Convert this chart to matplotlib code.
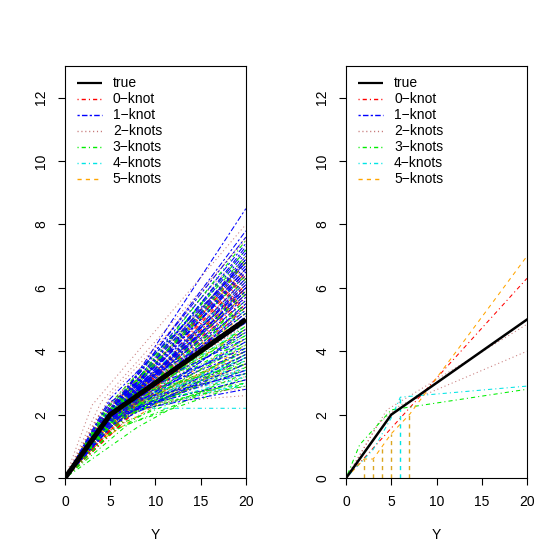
import numpy as np
import matplotlib
matplotlib.use('Agg')
import matplotlib.pyplot as plt

plt.rcParams['font.family'] = ['Liberation Sans', 'DejaVu Sans']
plt.rcParams['font.size'] = 10
plt.rcParams['lines.scale_dashes'] = False

# ------------------------------------------------------------
# data
# ------------------------------------------------------------
true_x = [0, 5, 20]
true_y = [0, 2, 5]

# left panel: each fitted line = (0,0) -> (knot_x, knot_y) -> (20, end)
blue_knot_x = [5, 5, 4.5, 5, 5.5, 5, 4, 5, 6, 5, 4.5, 5, 5.5, 5, 4, 5, 6, 5, 4.5, 5,
               5.5, 5, 4, 5, 6, 5, 4.5, 5, 5, 5.5, 5, 4, 5, 6, 5, 5, 4.5, 5, 5.5, 5,
               6, 4, 5, 7, 5.5, 3.5, 5, 6]
blue_knot_y = [2.0, 2.2, 2.0, 2.1, 2.3, 1.9, 1.8, 2.0, 2.4, 2.1, 1.9, 2.2, 2.0, 1.8, 1.7, 2.3, 2.2, 1.9, 2.1, 2.0,
               1.8, 2.2, 1.6, 2.0, 2.3, 1.9, 1.7, 2.1, 1.8, 2.0, 2.2, 1.5, 1.9, 2.1, 2.0, 1.7, 1.9, 2.4, 2.1, 2.0,
               2.5, 1.7, 1.6, 2.6, 2.3, 1.5, 2.5, 1.9]
blue_end = [8.5, 7.6, 7.4, 7.2, 7.1, 7.0, 6.9, 6.8, 6.7, 6.6, 6.5, 6.4, 6.3, 6.2, 6.1, 6.0, 5.9, 5.8, 5.7, 5.6,
            5.5, 5.4, 5.3, 5.2, 7.3, 6.9, 6.6, 4.9, 4.6, 4.3, 4.0, 3.8, 3.4, 3.1, 2.8, 6.0, 7.8, 5.0, 6.5, 5.9,
            4.4, 3.6, 4.7, 4.1, 3.3, 5.1, 6.8, 3.9]

brown_knot_x = [3, 4, 5, 5, 4.5, 5, 6, 5, 4, 5, 5.5, 5, 4.5, 5, 6, 5, 4, 5, 5.5, 5,
                4.5, 5, 6, 5, 5, 4, 5, 5.5, 5, 4.5, 5, 6, 3.5, 5, 4, 7, 3, 6, 8, 5]
brown_knot_y = [2.3, 2.4, 2.6, 2.2, 2.0, 1.9, 2.3, 2.1, 1.8, 2.0, 2.2, 1.8, 1.9, 2.1, 2.2, 1.7, 1.6, 2.0, 1.9, 2.2,
                1.8, 2.0, 2.3, 1.6, 2.4, 2.1, 1.9, 2.0, 1.7, 2.2, 1.8, 2.1, 1.9, 2.3, 1.7, 2.7, 1.5, 2.6, 2.4, 1.5]
brown_end = [8.0, 7.5, 7.2, 6.9, 6.6, 6.3, 6.0, 5.8, 5.6, 5.4, 5.2, 4.9, 4.7, 4.5, 4.3, 4.1, 3.9, 3.7, 3.5, 3.3,
             3.1, 2.9, 2.6, 4.4, 5.0, 6.2, 7.0, 3.9, 3.6, 4.8, 5.3, 4.0, 6.8, 7.6, 4.2, 3.4, 4.6, 2.8, 3.2, 3.8]

green_knot_x = [8, 7, 5, 5, 4.5, 5, 5.5, 5, 4, 5, 6, 5, 4.5, 5, 5, 6, 5, 4, 5, 5.5,
                5, 4.5, 5, 6, 5, 3, 5, 7, 5, 4, 6, 5, 5, 4.5, 5, 3.5, 6, 7, 4]
green_knot_y = [1.6, 1.7, 1.5, 2.0, 1.9, 2.1, 2.2, 1.8, 1.7, 2.0, 2.3, 1.9, 2.0, 2.2, 1.7, 2.1, 1.8, 1.6, 2.0, 1.9,
                2.1, 2.2, 1.8, 2.4, 1.6, 1.3, 2.3, 2.0, 1.9, 1.8, 1.7, 2.0, 1.4, 2.1, 1.7, 1.6, 2.5, 2.3, 1.4]
green_end = [3.5, 3.2, 3.0, 7.5, 7.2, 6.9, 6.6, 6.3, 6.0, 5.8, 5.5, 5.2, 4.9, 4.6, 4.3, 4.0, 3.8, 3.6, 3.4, 3.1,
             2.9, 7.0, 5.6, 4.7, 4.1, 5.0, 6.4, 3.7, 5.4, 4.4, 3.3, 6.8, 3.9, 4.5, 5.9, 4.2, 3.6, 3.0, 4.8]

cyan_knot_x = [7, 5, 6, 5, 4.5, 5, 6, 5, 5.5, 4, 5, 6, 5, 5, 4.5, 6.5, 5, 4]
cyan_knot_y = [2.2, 1.9, 2.1, 2.0, 1.8, 2.2, 2.3, 1.9, 2.0, 1.7, 2.1, 2.4, 1.8, 2.0, 1.9, 2.5, 2.2, 1.6]
cyan_end = [2.2, 3.0, 3.3, 3.6, 3.9, 4.2, 4.5, 4.8, 3.2, 3.5, 5.3, 2.9, 4.0, 6.2, 3.8, 3.4, 3.7, 4.4]

# 0-knot fits are straight lines through the origin
red_end = [6.3, 6.0, 5.8, 6.6, 5.5, 6.9, 5.9, 6.1, 6.4, 5.7, 6.2, 6.8, 5.4, 6.5, 6.0]

orange_knot_x = [5, 4, 6, 5, 5, 4.5, 6, 5, 3, 5, 7, 5]
orange_knot_y = [1.8, 1.6, 2.3, 2.0, 1.5, 1.9, 2.1, 2.2, 1.0, 1.7, 2.2, 2.0]
orange_end = [5.0, 4.4, 6.1, 3.9, 5.5, 4.7, 3.6, 6.6, 4.2, 5.2, 4.0, 5.8]

# right panel: one example fit per model
r_red_x, r_red_y = [0, 20], [0, 6.3]
r_brown1_x, r_brown1_y = [0, 4.5, 20], [0, 2.15, 4.85]
r_brown2_x, r_brown2_y = [0, 3.5, 6, 20], [0, 1.7, 2.3, 4.0]
r_green_x, r_green_y = [0, 1.5, 5, 20], [0, 1.05, 2.15, 2.8]
r_cyan_x, r_cyan_y = [0, 3, 5, 6, 20], [0, 0.9, 1.9, 2.55, 2.9]
r_orange_x, r_orange_y = [0, 2, 3, 5, 7, 20], [0, 0.6, 0.6, 1.4, 2.0, 7.0]
orange_knots = [2, 3, 4, 5, 7]
cyan_knots = [6]

labels = ['true', '0\u2212knot', '1\u2212knot', '2\u2212knots', '3\u2212knots', '4\u2212knots', '5\u2212knots']

# R-like colours and line types
RED, BLUE, BROWN, GREEN, CYAN, ORANGE = '#FF0000', '#0000FF', '#A52A2A', '#00EE00', '#00E5E5', '#FFA500'
DOTDASH = (0, (0.8, 2.2, 3.0, 2.2))
TWODASH = (0, (1.6, 1.6, 4.0, 1.6))
DOTTED = (0, (0.8, 2.0))
DASHED = (0, (3.0, 3.0))
LW = 0.75

legend_colors = ['black', RED, BLUE, BROWN, GREEN, CYAN, ORANGE]
legend_ls = ['-', DOTDASH, TWODASH, DOTTED, DOTDASH, DOTDASH, DASHED]


def setup(ax):
    ax.set_xlim(0, 20)
    ax.set_ylim(0, 13)
    ax.set_xticks([0, 5, 10, 15, 20])
    ax.set_yticks([0, 2, 4, 6, 8, 10, 12])
    ax.tick_params(direction='out', length=5, width=0.8, labelsize=10, pad=7)
    for lab in ax.get_yticklabels():
        lab.set_rotation(90)
        lab.set_va('center')
    for s in ax.spines.values():
        s.set_linewidth(0.8)
    ax.set_xlabel('Y', fontsize=10, labelpad=14)
    # legend drawn by hand (no frame, like R's bty="n")
    for i, lab in enumerate(labels):
        y = 12.45 - i * 0.5
        lw = 1.6 if i == 0 else 1.0
        a = 0.65 if legend_colors[i] == BROWN else 1.0
        ax.plot([1.3, 4.1], [y, y], color=legend_colors[i], lw=lw, ls=legend_ls[i], alpha=a,
                solid_capstyle='butt')
        ax.text(5.3, y, lab, va='center', ha='left', fontsize=10)


fig = plt.figure(figsize=(5.6, 5.6), dpi=100)
ax1 = fig.add_axes([0.116, 0.1464, 0.323, 0.7357])
ax2 = fig.add_axes([0.618, 0.1464, 0.323, 0.7357])

# ---- left panel: all simulated fits ----
groups = [
    (blue_knot_x, blue_knot_y, blue_end, BLUE, TWODASH, 1.0),
    (brown_knot_x, brown_knot_y, brown_end, BROWN, DOTTED, 0.6),
    (green_knot_x, green_knot_y, green_end, GREEN, DOTDASH, 1.0),
    (cyan_knot_x, cyan_knot_y, cyan_end, CYAN, DOTDASH, 1.0),
    (orange_knot_x, orange_knot_y, orange_end, ORANGE, DASHED, 1.0),
]
n_max = max(len(g[0]) for g in groups)
for i in range(n_max):
    if i < len(red_end):
        ax1.plot([0, 20], [0, red_end[i]], color=RED, lw=LW, ls=DOTDASH)
    for kx, ky, end, col, ls, a in groups:
        if i < len(kx):
            ax1.plot([0, kx[i], 20], [0, ky[i], end[i]], color=col, lw=LW, ls=ls, alpha=a)
ax1.plot(true_x, true_y, color='black', lw=3.6, solid_capstyle='butt')
setup(ax1)

# ---- right panel: one replicate ----
ax2.plot(r_red_x, r_red_y, color=RED, lw=LW, ls=DOTDASH)
ax2.plot(r_brown1_x, r_brown1_y, color=BROWN, lw=LW, ls=DOTTED, alpha=0.6)
ax2.plot(r_brown2_x, r_brown2_y, color=BROWN, lw=LW, ls=DOTTED, alpha=0.6)
ax2.plot(r_green_x, r_green_y, color=GREEN, lw=LW, ls=DOTDASH)
ax2.plot(r_cyan_x, r_cyan_y, color=CYAN, lw=LW, ls=DOTDASH)
ax2.plot(r_orange_x, r_orange_y, color=ORANGE, lw=LW, ls=DASHED)
for k in orange_knots:
    ax2.plot([k, k], [0, np.interp(k, r_orange_x, r_orange_y)], color='#DAA520', lw=1.0, ls=DASHED)
for k in cyan_knots:
    ax2.plot([k, k], [0, np.interp(k, r_cyan_x, r_cyan_y)], color=CYAN, lw=1.0, ls=DASHED)
ax2.plot(true_x, true_y, color='black', lw=1.8)
setup(ax2)

fig.savefig('out.png', dpi=100)
